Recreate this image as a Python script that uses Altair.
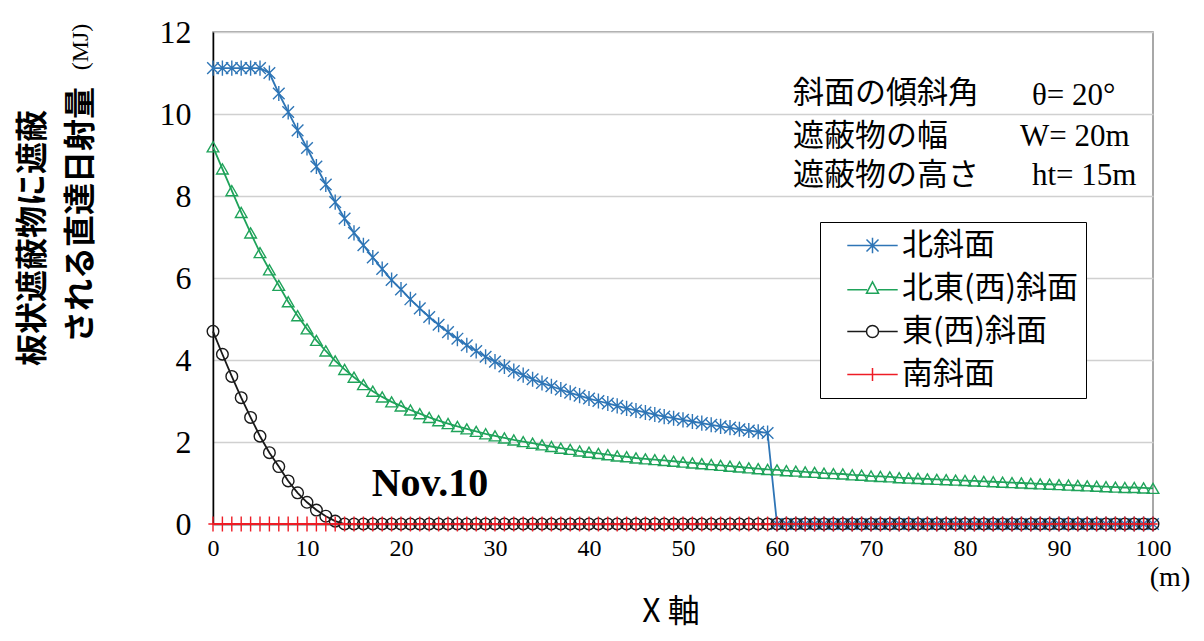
import altair as alt
import pandas as pd

# ---------------- data ----------------
x_m = list(range(101))

series_names = ["北斜面", "北東(西)斜面", "東(西)斜面", "南斜面"]

north = [11.12, 11.12, 11.12, 11.12, 11.12, 11.12, 11.0, 10.5, 10.05, 9.6,
         9.17, 8.72, 8.28, 7.85, 7.45, 7.1, 6.8, 6.5, 6.22, 5.95,
         5.72, 5.48, 5.26, 5.05, 4.86, 4.68, 4.52, 4.36, 4.22, 4.08,
         3.96, 3.84, 3.73, 3.63, 3.53, 3.44, 3.36, 3.28, 3.2, 3.13,
         3.06, 3.0, 2.94, 2.88, 2.82, 2.77, 2.72, 2.67, 2.62, 2.58,
         2.54, 2.5, 2.46, 2.42, 2.38, 2.35, 2.31, 2.28, 2.25, 2.22,
         0, 0, 0, 0, 0, 0, 0, 0, 0, 0,
         0, 0, 0, 0, 0, 0, 0, 0, 0, 0,
         0, 0, 0, 0, 0, 0, 0, 0, 0, 0,
         0, 0, 0, 0, 0, 0, 0, 0, 0, 0, 0]

northeast = [9.2, 8.66, 8.13, 7.6, 7.1, 6.62, 6.2, 5.82, 5.42, 5.08,
             4.76, 4.48, 4.22, 3.98, 3.77, 3.58, 3.4, 3.24, 3.1, 2.98,
             2.88, 2.78, 2.69, 2.6, 2.52, 2.45, 2.38, 2.32, 2.26, 2.2,
             2.15, 2.1, 2.05, 2.01, 1.97, 1.93, 1.89, 1.85, 1.82, 1.78,
             1.75, 1.72, 1.69, 1.66, 1.64, 1.61, 1.59, 1.57, 1.55, 1.53,
             1.51, 1.49, 1.47, 1.45, 1.43, 1.41, 1.39, 1.37, 1.35, 1.33,
             1.32, 1.3, 1.29, 1.27, 1.26, 1.24, 1.23, 1.22, 1.2, 1.19,
             1.17, 1.16, 1.15, 1.13, 1.12, 1.11, 1.1, 1.09, 1.08, 1.07,
             1.06, 1.05, 1.04, 1.03, 1.02, 1.01, 1.0, 0.99, 0.98, 0.97,
             0.96, 0.95, 0.94, 0.93, 0.92, 0.91, 0.9, 0.89, 0.89, 0.88, 0.87]

east = [4.7, 4.14, 3.6, 3.08, 2.6, 2.14, 1.74, 1.4, 1.05, 0.76,
        0.53, 0.34, 0.19, 0.07, 0, 0, 0, 0, 0, 0,
        0, 0, 0, 0, 0, 0, 0, 0, 0, 0,
        0, 0, 0, 0, 0, 0, 0, 0, 0, 0,
        0, 0, 0, 0, 0, 0, 0, 0, 0, 0,
        0, 0, 0, 0, 0, 0, 0, 0, 0, 0,
        0, 0, 0, 0, 0, 0, 0, 0, 0, 0,
        0, 0, 0, 0, 0, 0, 0, 0, 0, 0,
        0, 0, 0, 0, 0, 0, 0, 0, 0, 0,
        0, 0, 0, 0, 0, 0, 0, 0, 0, 0, 0]

south = [0, 0, 0, 0, 0, 0, 0, 0, 0, 0,
         0, 0, 0, 0, 0, 0, 0, 0, 0, 0,
         0, 0, 0, 0, 0, 0, 0, 0, 0, 0,
         0, 0, 0, 0, 0, 0, 0, 0, 0, 0,
         0, 0, 0, 0, 0, 0, 0, 0, 0, 0,
         0, 0, 0, 0, 0, 0, 0, 0, 0, 0,
         0, 0, 0, 0, 0, 0, 0, 0, 0, 0,
         0, 0, 0, 0, 0, 0, 0, 0, 0, 0,
         0, 0, 0, 0, 0, 0, 0, 0, 0, 0,
         0, 0, 0, 0, 0, 0, 0, 0, 0, 0, 0]

x_ticks = [0, 10, 20, 30, 40, 50, 60, 70, 80, 90, 100]
y_ticks = [0, 2, 4, 6, 8, 10, 12]

title_line1 = "板状遮蔽物に遮蔽"
title_line2 = "される直達日射量"
unit_y = "(MJ)"
unit_x = "(m)"
x_title = "X 軸"
date_label = "Nov.10"
cond_jp = ["斜面の傾斜角", "遮蔽物の幅", "遮蔽物の高さ"]
cond_val = ["θ= 20°", "W= 20m", "ht= 15m"]

# ---------------- styles ----------------
series_colors = ["#2E75B6", "#1FA35A", "#1A1A1A", "#EE1C25"]
marker_shapes = [
    "M-1,-1L1,1M-1,1L1,-1M0,-1.3L0,1.3",
    "triangle-up",
    "circle",
    "M0,-1.3L0,1.3M-0.8,0L0.8,0",
]
legend_shapes = [
    "M-4.2,0L4.2,0M-1,-1L1,1M-1,1L1,-1M0,-1.3L0,1.3",
    "M-4.2,0.2L-0.9,0.2M0.9,0.2L4.2,0.2M0,-1.1L1,0.8L-1,0.8Z",
    "M-4.2,0L-1,0M1,0L4.2,0M1,0A1,1 0 1,1 -1,0A1,1 0 1,1 1,0",
    "M-4.2,0L4.2,0M0,-1.1L0,1.1",
]
SERIF = "Liberation Serif"
CJK = "Noto Sans CJK JP"

rows = []
for name, vals in zip(series_names, [north, northeast, east, south]):
    for xv, yv in zip(x_m, vals):
        rows.append({"x": xv, "v": yv, "s": name})
df = pd.DataFrame(rows)

x_enc = alt.X("x:Q", scale=alt.Scale(domain=[0, 100], nice=False),
              axis=alt.Axis(values=x_ticks, grid=False, ticks=False,
                            domainColor="black", domainWidth=1.5,
                            labelFont=SERIF, labelFontSize=24, labelColor="black",
                            labelPadding=12, labelFlush=False, title=None))
y_enc = alt.Y("v:Q", scale=alt.Scale(domain=[0, 12], nice=False),
              axis=alt.Axis(values=y_ticks, grid=True, gridColor="#d0d0d0",
                            gridWidth=1.5, ticks=False, domainColor="black",
                            domainWidth=1.5, labelFont=SERIF, labelFontSize=32,
                            labelColor="black", labelPadding=22, title=None))

lines = alt.Chart(df).mark_line(strokeWidth=1.8).encode(
    x=x_enc, y=y_enc,
    color=alt.Color("s:N", scale=alt.Scale(domain=series_names, range=series_colors), legend=None),
)

points = alt.Chart(df).mark_point(filled=False, size=135, strokeWidth=1.4, opacity=1).encode(
    x=x_enc, y=y_enc,
    color=alt.Color("s:N", scale=alt.Scale(domain=series_names, range=series_colors), legend=None),
    shape=alt.Shape("s:N", scale=alt.Scale(domain=series_names, range=marker_shapes), legend=None),
)

legend_props = dict(
    orient="none", legendX=607, legendY=190, title=None,
    strokeColor="black", fillColor="white", padding=8, cornerRadius=0,
    labelFont=CJK, labelFontSize=31, labelColor="black", labelLimit=500,
    labelExpr="datum.label + '\u3000'",
    symbolSize=144, symbolStrokeWidth=1.5, symbolOffset=29, labelOffset=14,
    rowPadding=11,
)
legend_layer = alt.Chart(df).transform_filter("false").mark_point(
    filled=False, strokeWidth=1.5, opacity=1).encode(
    x=x_enc, y=y_enc,
    color=alt.Color("s:N", scale=alt.Scale(domain=series_names, range=series_colors),
                    legend=alt.Legend(**legend_props)),
    shape=alt.Shape("s:N", scale=alt.Scale(domain=series_names, range=legend_shapes),
                    legend=alt.Legend(**legend_props)),
)


def txt(s, px, py, font, size, weight="normal", angle=0, align="center"):
    return alt.Chart(pd.DataFrame({"t": [s]})).mark_text(
        font=font, fontSize=size, fontWeight=weight, angle=angle, align=align,
        baseline="middle", color="black").encode(
        text="t:N", x=alt.value(px), y=alt.value(py))


texts = [
    txt(title_line1, -180, 206, CJK, 32, "bold", 270),
    txt(title_line2, -132, 183, CJK, 32, "bold", 270),
    txt(unit_y, -132, 15, SERIF, 24, "normal", 270),
    txt(cond_jp[0], 580, 62, CJK, 31, "normal", 0, "left"),
    txt(cond_jp[1], 580, 105, CJK, 31, "normal", 0, "left"),
    txt(cond_jp[2], 580, 144, CJK, 31, "normal", 0, "left"),
    txt(cond_val[0], 819, 64, SERIF, 31, "normal", 0, "left"),
    txt(cond_val[1], 807, 105, SERIF, 31, "normal", 0, "left"),
    txt(cond_val[2], 819, 144, SERIF, 31, "normal", 0, "left"),
    txt(date_label, 217, 452, SERIF, 40, "bold"),
    txt(unit_x, 957, 546, SERIF, 28),
    txt(x_title, 458, 580, CJK, 32),
]

chart = alt.layer(lines, points, legend_layer, *texts).resolve_scale(
    color="independent", shape="independent"
).properties(
    width=940, height=492,
    autosize=alt.AutoSizeParams(type="none"),
    padding={"left": 205, "top": 24, "right": 40, "bottom": 108},
).configure_view(stroke="#8c8c8c", strokeWidth=1.5)

chart.save("out.html", embed_options={"renderer": "svg", "actions": False})
